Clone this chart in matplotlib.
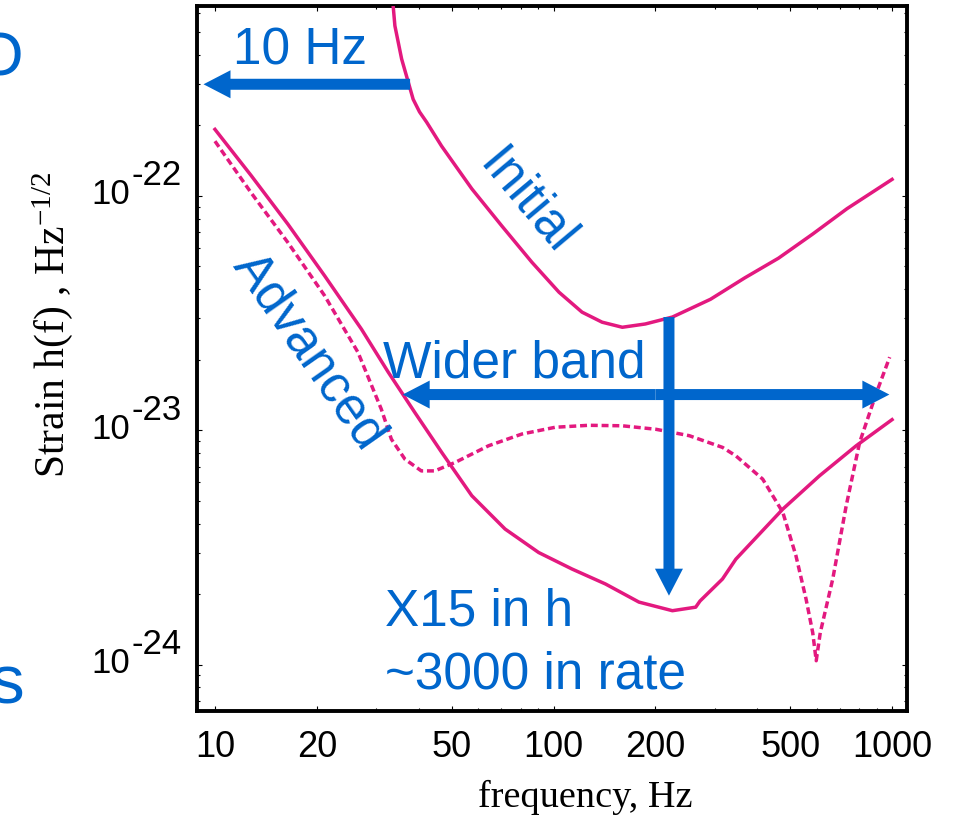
import numpy as np
import matplotlib
matplotlib.use('Agg')
import matplotlib.pyplot as plt
from matplotlib.patches import FancyArrowPatch, ArrowStyle
from matplotlib.ticker import FixedLocator, LogLocator, NullFormatter

PINK = '#e3197f'
BLUE = '#0066cc'
SANS = 'Liberation Sans'
SERIF = 'Liberation Serif'
PX = 72 / 100.0   # points per pixel at dpi 100

plt.rcParams['mathtext.fontset'] = 'custom'
plt.rcParams['mathtext.rm'] = SERIF
plt.rcParams['mathtext.it'] = SERIF + ':italic'

# noise curves: frequency (Hz) and strain (1/sqrt(Hz))
f_initial = [32.0, 33.6, 34.0, 35.6, 36.8, 38.5, 40.2, 42.2, 46.7, 57.4, 70.4, 86.3,
             103.8, 121.4, 139.2, 159.7, 186.7, 224.5, 290.9, 366.6, 462, 583, 736,
             1000]
h_initial = [9.0e-22, 6.46e-22, 5.31e-22, 3.83e-22, 3.24e-22, 2.58e-22, 2.28e-22,
             2.06e-22, 1.63e-22, 1.07e-22, 7.43e-23, 5.21e-23, 3.88e-23, 3.19e-23,
             2.89e-23, 2.75e-23, 2.84e-23, 3.04e-23, 3.62e-23, 4.46e-23, 5.42e-23,
             6.87e-23, 8.81e-23, 1.175e-22]

f_adv = [10, 12.79, 16.42, 21.08, 27.08, 32.49, 38.95, 46.74, 57.36, 71.95, 90.4,
         113.4, 142.4, 178.8, 224.5, 263, 270.9, 315.5, 345.6, 475.6, 610.9, 783.6,
         1000]
h_adv = [1.92e-22, 1.22e-22, 7.57e-23, 4.56e-23, 2.70e-23, 1.77e-23, 1.19e-23,
         8.05e-24, 5.26e-24, 3.79e-24, 3.01e-24, 2.56e-24, 2.21e-24, 1.85e-24,
         1.70e-24, 1.76e-24, 1.87e-24, 2.32e-24, 2.82e-24, 4.61e-24, 6.40e-24,
         8.59e-24, 1.11e-23]

f_adv_tuned = [10, 12.79, 16.42, 21.08, 26.45, 31.0, 33.2, 36.4, 40.7, 44.6, 51.2,
               64.3, 80.7, 101.2, 127, 159.6, 200.5, 251.9, 315.8, 345.6, 414.8,
               475.6, 520, 557, 583, 597, 613.7, 668, 732, 802, 900, 984]
h_adv_tuned = [1.71e-22, 1.03e-22, 6.32e-23, 3.75e-23, 2.15e-23, 1.23e-23, 9.16e-24,
               7.53e-24, 6.71e-24, 6.71e-24, 7.29e-24, 8.59e-24, 9.64e-24, 1.03e-23,
               1.05e-23, 1.045e-23, 1.01e-23, 9.48e-24, 8.45e-24, 7.78e-24, 6.19e-24,
               4.47e-24, 2.92e-24, 1.91e-24, 1.37e-24, 1.04e-24, 1.37e-24, 2.32e-24,
               4.76e-24, 8.87e-24, 1.45e-23, 2.05e-23]

x_major = [10, 20, 50, 100, 200, 500, 1000]
x_minor = [30, 40, 60, 70, 80, 90, 300, 400, 600, 700, 800, 900]
y_major = [1e-24, 1e-23, 1e-22]
y_exponents = ['-24', '-23', '-22']

# annotation arrows in data units
arrow_10hz = ((37.7, 2.99e-22), (9.25, 2.99e-22))
arrow_band = (35.85, 982, 1.42e-23)          # left tip, right tip, height
arrow_gain = (219.3, 3.04e-23, 1.97e-24)     # frequency, top, tip


def block_arrow(ax, start, end):
    style = ArrowStyle.Simple(head_length=27 * PX, head_width=28 * PX,
                              tail_width=11 * PX)
    ax.add_patch(FancyArrowPatch(start, end, arrowstyle=style, mutation_scale=1,
                                 color=BLUE, lw=0, shrinkA=0, shrinkB=0, zorder=4))


fig = plt.figure(figsize=(9.56, 8.2), dpi=100)
ax = fig.add_axes([197 / 956, 1 - 712.3 / 820, 710 / 956, 705 / 820])
ax.set_xscale('log')
ax.set_yscale('log')
ax.set_xlim(8.85, 1107)
ax.set_ylim(6.33e-25, 6.43e-22)

ax.plot(f_initial, h_initial, color=PINK, lw=2.5, zorder=3)
ax.plot(f_adv, h_adv, color=PINK, lw=2.5, zorder=3)
ax.plot(f_adv_tuned, h_adv_tuned, color=PINK, lw=2.5, ls=(0, (2.0, 1.1)), zorder=3)

block_arrow(ax, *arrow_10hz)
fb_lo, fb_hi, hb = arrow_band
block_arrow(ax, (200, hb), (fb_lo, hb))
block_arrow(ax, (200, hb), (fb_hi, hb))
fg, hg_top, hg_bot = arrow_gain
block_arrow(ax, (fg, hg_top), (fg, hg_bot))

for s in ax.spines.values():
    s.set_linewidth(2.8)

ax.xaxis.set_major_locator(FixedLocator(x_major))
ax.xaxis.set_minor_locator(FixedLocator(x_minor))
ax.set_xticklabels([str(v) for v in x_major], fontsize=26, family=SANS)
ax.xaxis.set_minor_formatter(NullFormatter())
ax.yaxis.set_major_locator(FixedLocator(y_major))
ax.yaxis.set_minor_locator(LogLocator(base=10, subs=np.arange(2, 10)))
ax.yaxis.set_major_formatter(NullFormatter())
ax.yaxis.set_minor_formatter(NullFormatter())
ax.tick_params(which='both', direction='in', top=True, right=True, width=0.8)
ax.tick_params(which='major', length=3.8, pad=13)
ax.tick_params(which='minor', length=2.5)

for v, e in zip(y_major, y_exponents):
    ax.annotate('10', xy=(0, v), xycoords=('axes fraction', 'data'),
                xytext=(-67 * PX, 2 * PX), textcoords='offset points',
                ha='right', va='center', fontsize=25, family=SANS)
    ax.annotate(e, xy=(0, v), xycoords=('axes fraction', 'data'),
                xytext=(-15 * PX, 21 * PX), textcoords='offset points',
                ha='right', va='center', fontsize=25, family=SANS)

fig.text(53 / 956, 1 - 325 / 820, r'Strain h(f) , Hz$^{-1/2}$', rotation=90,
         ha='center', va='center', fontsize=30, family=SERIF)
fig.text(585 / 956, 1 - 797 / 820, 'frequency, Hz', ha='center', va='center',
         fontsize=27.5, family=SERIF)

txt = dict(color=BLUE, fontsize=37, family=SANS, zorder=5)
ax.text(17.83, 3.65e-22, '10 Hz', ha='center', va='baseline', **txt)
ax.text(83.0, 9.5e-23, 'Initial', ha='center', va='center', rotation=-50,
        rotation_mode='anchor', **txt)
ax.text(18.96, 2.18e-23, 'Advanced', ha='center', va='center', rotation=-55,
        rotation_mode='anchor', **txt)
ax.text(76.4, 1.69e-23, 'Wider band', ha='center', va='baseline', **txt)
ax.text(31.8, 1.49e-24, 'X15 in h', ha='left', va='baseline', **txt)
ax.text(31.8, 7.96e-25, '~3000 in rate', ha='left', va='baseline', **txt)

# slide text running in from the left edge
fig.text(23 / 956, 1 - 76 / 820, 'O', ha='right', va='baseline', color=BLUE,
         fontsize=44, family=SANS)
fig.text(24 / 956, 1 - 704 / 820, 's', ha='right', va='baseline', color=BLUE,
         fontsize=50, family=SANS)

fig.savefig('out.png', dpi=100)
